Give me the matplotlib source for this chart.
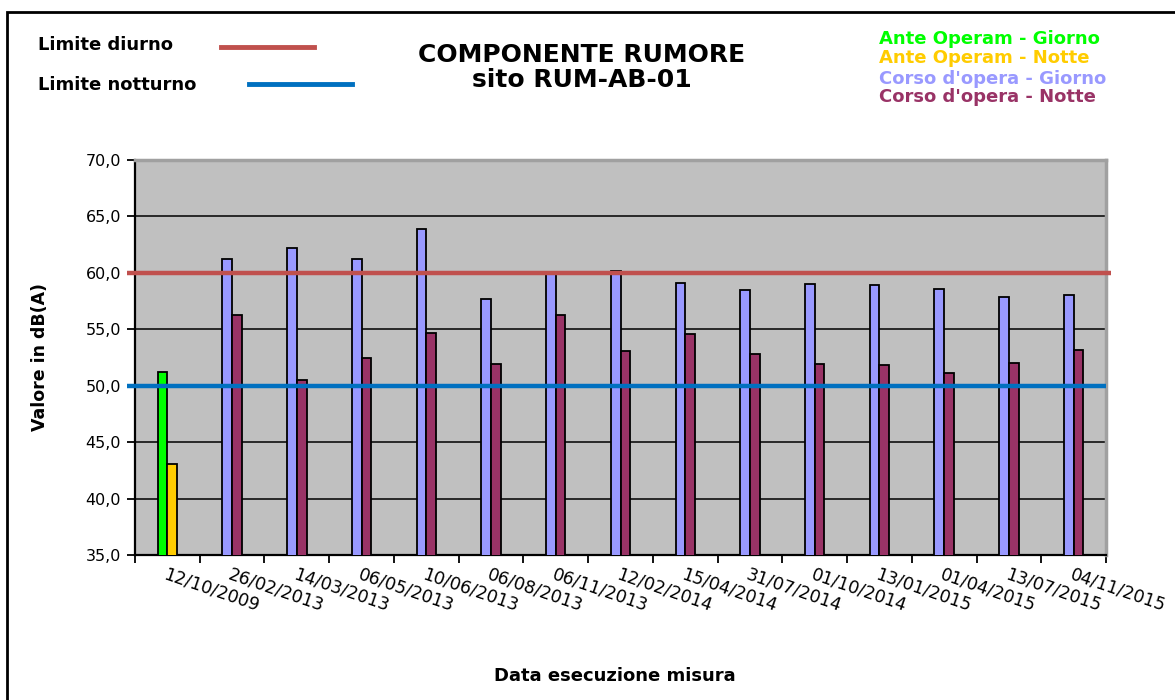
import matplotlib
matplotlib.use("Agg")
import matplotlib.pyplot as plt
import numpy as np
from matplotlib.patches import Rectangle
from matplotlib.lines import Line2D

# ---------------------------------------------------------------------------
# Data
# ---------------------------------------------------------------------------
dates = ["12/10/2009", "26/02/2013", "14/03/2013", "06/05/2013", "10/06/2013",
         "06/08/2013", "06/11/2013", "12/02/2014", "15/04/2014", "31/07/2014",
         "01/10/2014", "13/01/2015", "01/04/2015", "13/07/2015", "04/11/2015"]

ante_giorno = [51.2]
ante_notte = [43.1]
corso_giorno = [61.2, 62.2, 61.2, 63.9, 57.7, 60.1, 60.2, 59.1, 58.5,
                59.0, 58.9, 58.6, 57.9, 58.0]
corso_notte = [56.3, 50.5, 52.5, 54.7, 51.9, 56.3, 53.1, 54.6, 52.8,
               51.9, 51.8, 51.1, 52.0, 53.2]

limite_diurno = 60.0
limite_notturno = 50.0

yticks = [35, 40, 45, 50, 55, 60, 65, 70]

# colours
C_ANTE_G = "#00FF00"
C_ANTE_N = "#FFCC00"
C_CORSO_G = "#9999FF"
C_CORSO_N = "#993366"
C_RED = "#C0504D"
C_BLUE = "#0070C0"

W, H = 1175, 700


def fx(px):
    return px / W


def fy(py):
    return 1 - py / H


fig = plt.figure(figsize=(W / 100, H / 100), dpi=100)
fig.patch.set_facecolor("white")

ax = fig.add_axes([fx(135), fy(555), fx(1106) - fx(135), fy(160) - fy(555)])
ax.set_facecolor("#C0C0C0")

x = np.arange(len(dates))
bw = 0.15

ax.bar(x[:1] - bw / 2, ante_giorno, bw, color=C_ANTE_G,
       edgecolor="black", linewidth=1.3, zorder=3)
ax.bar(x[:1] + bw / 2, ante_notte, bw, color=C_ANTE_N,
       edgecolor="black", linewidth=1.3, zorder=3)
ax.bar(x[1:] - bw / 2, corso_giorno, bw, color=C_CORSO_G,
       edgecolor="black", linewidth=1.3, zorder=3)
ax.bar(x[1:] + bw / 2, corso_notte, bw, color=C_CORSO_N,
       edgecolor="black", linewidth=1.3, zorder=3)

ax.set_xlim(-0.5, len(dates) - 0.5)
ax.set_ylim(35, 70)

# grid
for v in yticks[1:-1]:
    ax.axhline(v, color="black", linewidth=1.1, zorder=1)

# limit lines (drawn shapes extending slightly past the axes)
ax.plot([-0.62, 14.58], [limite_diurno, limite_diurno], color=C_RED,
        linewidth=3.2, zorder=4, clip_on=False, solid_capstyle="butt")
ax.plot([-0.62, 14.5], [limite_notturno, limite_notturno], color=C_BLUE,
        linewidth=3.2, zorder=4, clip_on=False, solid_capstyle="butt")

# axes styling
ax.set_yticks(yticks)
ax.set_yticklabels([f"{v:.1f}".replace(".", ",") for v in yticks], fontsize=11.5)
ax.set_xticks(np.arange(-0.5, len(dates), 1.0))
ax.set_xticklabels([])
ax.tick_params(axis="both", direction="out", length=6, width=1.3, color="black")
ax.tick_params(axis="y", pad=4)

for s in ("left", "bottom"):
    ax.spines[s].set_color("black")
    ax.spines[s].set_linewidth(1.6)
for s in ("top", "right"):
    ax.spines[s].set_color("#A0A0A0")
    ax.spines[s].set_linewidth(2.5)

# rotated date labels, anchored at each category centre
for xi, d in zip(x, dates):
    ax.text(xi, -0.025, d, transform=ax.get_xaxis_transform(),
            rotation=-19, rotation_mode="anchor", ha="left", va="top",
            fontsize=12.5)

fig.text(fx(40), fy(357), "Valore in dB(A)", rotation=90, ha="center",
         va="center", fontsize=12.5, fontweight="bold")
fig.text(fx(615), fy(676), "Data esecuzione misura", ha="center", va="center",
         fontsize=13, fontweight="bold")

# title
fig.text(fx(582), fy(55), "COMPONENTE RUMORE", ha="center", va="center",
         fontsize=18, fontweight="bold")
fig.text(fx(582), fy(80), "sito RUM-AB-01", ha="center", va="center",
         fontsize=18, fontweight="bold")

# top-left limit legend
fig.text(fx(38), fy(45), "Limite diurno", ha="left", va="center",
         fontsize=13, fontweight="bold")
fig.text(fx(38), fy(85), "Limite notturno", ha="left", va="center",
         fontsize=13, fontweight="bold")
fig.add_artist(Line2D([fx(221), fx(314)], [fy(47), fy(47)], color=C_RED,
                      linewidth=3.5, transform=fig.transFigure))
fig.add_artist(Line2D([fx(249), fx(352)], [fy(84), fy(84)], color=C_BLUE,
                      linewidth=3.5, transform=fig.transFigure))

# top-right series legend
legend_items = [("Ante Operam - Giorno", C_ANTE_G, 39),
                ("Ante Operam - Notte", C_ANTE_N, 58),
                ("Corso d'opera - Giorno", C_CORSO_G, 79),
                ("Corso d'opera - Notte", C_CORSO_N, 97)]
for label, col, py in legend_items:
    fig.text(fx(879), fy(py), label, ha="left", va="center", color=col,
             fontsize=13, fontweight="bold")

# outer frame
fig.add_artist(Rectangle((fx(7), -0.02), 1.05, fy(12) + 0.02, fill=False,
                         edgecolor="black", linewidth=2,
                         transform=fig.transFigure))

fig.savefig("out.png", dpi=100)
